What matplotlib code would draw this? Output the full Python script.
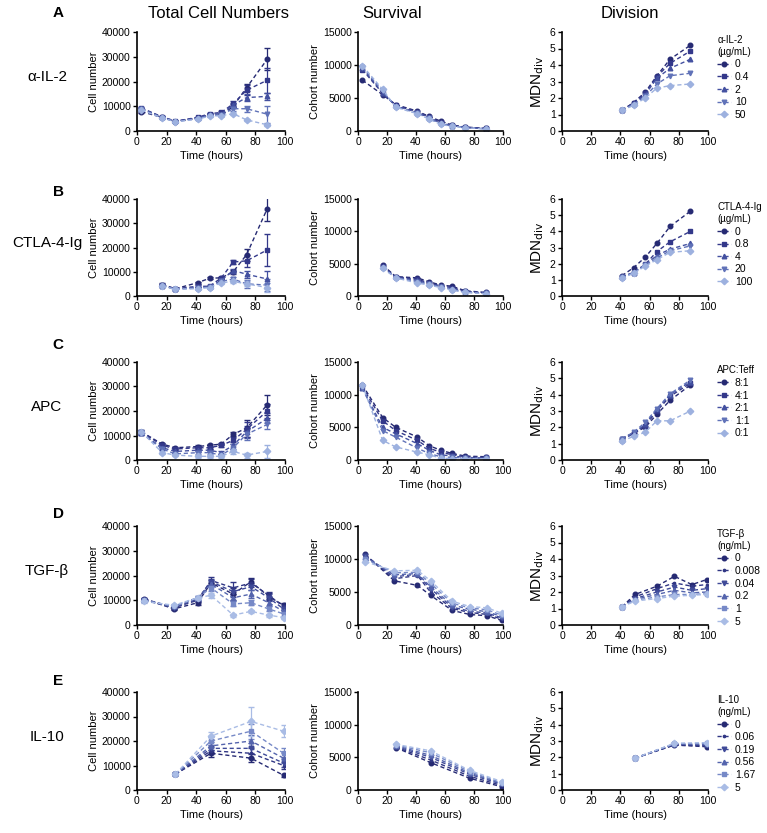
import matplotlib
matplotlib.use("Agg")
import matplotlib.pyplot as plt

plt.rcParams['font.family'] = ['Liberation Sans', 'DejaVu Sans']

# ---- row A: alpha-IL-2 ----
a_groups = ['0', '0.4', '2', '10', '50']
a_t = [3, 17, 26, 41, 49, 57, 65, 74, 88]
a_cells = [[7800, 5500, 3800, 5200, 6500, 6300, 10000, 17500, 29000],
           [9300, 5700, 4000, 5500, 7000, 7500, 11000, 16500, 20500],
           [9000, 5600, 3900, 5300, 6700, 7000, 10500, 13500, 14000],
           [8800, 5400, 3800, 5000, 6200, 6500, 9000, 9000, 6800],
           [8500, 5300, 3700, 4800, 6000, 6200, 7000, 4500, 2500]]
a_cells_err = [[500, 300, 200, 300, 400, 400, 900, 1500, 4500],
               [500, 300, 200, 300, 400, 500, 1200, 2000, 5000],
               [400, 300, 200, 300, 400, 400, 1000, 1500, 1500],
               [400, 300, 200, 300, 300, 400, 800, 1200, 3500],
               [400, 300, 200, 300, 300, 300, 500, 500, 500]]
a_surv = [[7700, 5500, 4000, 3000, 2200, 1500, 900, 600, 400],
          [9300, 5700, 3900, 2900, 2100, 1300, 850, 550, 380],
          [9500, 5800, 3800, 2800, 2000, 1200, 800, 550, 350],
          [9700, 6000, 3700, 2700, 1900, 1100, 750, 500, 330],
          [9900, 6300, 3600, 2600, 1800, 1000, 700, 500, 300]]
a_tdiv = [41, 49, 57, 65, 74, 88]
a_div = [[1.25, 1.72, 2.35, 3.35, 4.35, 5.2],
         [1.25, 1.7, 2.3, 3.3, 4.1, 4.85],
         [1.25, 1.65, 2.2, 3.2, 3.8, 4.35],
         [1.25, 1.6, 2.1, 2.85, 3.35, 3.5],
         [1.25, 1.55, 2.0, 2.6, 2.75, 2.85]]

# ---- row B: CTLA-4-Ig ----
b_groups = ['0', '0.8', '4', '20', '100']
b_t = [17, 26, 41, 49, 57, 65, 74, 88]
b_cells = [[4700, 3000, 5500, 7300, 7500, 10000, 17000, 36000],
           [4500, 3000, 4000, 4000, 7500, 14000, 14500, 19000],
           [4300, 2900, 3500, 3800, 6500, 10500, 9000, 7000],
           [4200, 2800, 3300, 3700, 6000, 7000, 5000, 4500],
           [4000, 2800, 3000, 3500, 5500, 6000, 5000, 3500]]
b_cells_err = [[500, 300, 400, 400, 500, 800, 2500, 5000],
               [500, 300, 400, 400, 500, 800, 2500, 6500],
               [400, 300, 300, 300, 500, 800, 1500, 3500],
               [400, 300, 300, 300, 500, 800, 1500, 2500],
               [400, 300, 300, 300, 500, 800, 1000, 2000]]
b_surv = [[4800, 3000, 2800, 2200, 1700, 1500, 800, 550],
          [4600, 2950, 2600, 2000, 1600, 1300, 700, 500],
          [4500, 2900, 2400, 1900, 1500, 1100, 650, 450],
          [4400, 2850, 2200, 1800, 1400, 1000, 600, 400],
          [4300, 2800, 2000, 1700, 1300, 900, 550, 350]]
b_tdiv = [41, 49, 57, 65, 74, 88]
b_div = [[1.25, 1.75, 2.4, 3.25, 4.3, 5.25],
         [1.2, 1.45, 1.95, 2.75, 3.35, 4.0],
         [1.15, 1.45, 1.95, 2.5, 2.9, 3.25],
         [1.15, 1.45, 1.9, 2.35, 2.8, 3.1],
         [1.1, 1.4, 1.85, 2.25, 2.7, 2.8]]

# ---- row C: APC ----
c_groups = ['8:1', '4:1', '2:1', '1:1', '0:1']
c_t = [3, 17, 26, 41, 49, 57, 65, 74, 88]
c_cells = [[11500, 6500, 5000, 5500, 6000, 6500, 10500, 13000, 22500],
           [11500, 6000, 4500, 5000, 5000, 6000, 8000, 12500, 20000],
           [11000, 5000, 3500, 4000, 4000, 3000, 6000, 11500, 17000],
           [11000, 4500, 2500, 3000, 3000, 2000, 5000, 10500, 14500],
           [11500, 3000, 2000, 1500, 1500, 1500, 3500, 2000, 3500]]
c_cells_err = [[800, 500, 500, 500, 500, 500, 800, 3500, 4000],
               [800, 500, 500, 500, 500, 500, 1500, 3000, 3000],
               [800, 500, 500, 500, 500, 500, 1500, 2500, 2000],
               [800, 500, 500, 500, 500, 500, 1500, 2500, 2000],
               [800, 500, 500, 500, 500, 500, 1000, 1000, 2500]]
c_surv = [[11500, 6500, 5000, 3500, 2200, 1500, 1000, 600, 500],
          [11200, 6000, 4500, 3000, 1800, 1200, 800, 500, 400],
          [11000, 5000, 4000, 2500, 1500, 800, 600, 400, 300],
          [11000, 4500, 3500, 1800, 1000, 500, 400, 300, 300],
          [11500, 3000, 2000, 1200, 800, 300, 200, 200, 200]]
c_tdiv = [41, 49, 57, 65, 74, 88]
c_div = [[1.3, 1.65, 2.0, 2.8, 3.65, 4.6],
         [1.3, 1.65, 2.1, 3.0, 3.9, 4.7],
         [1.25, 1.6, 2.2, 3.1, 4.0, 4.8],
         [1.3, 1.7, 2.3, 3.15, 4.05, 4.9],
         [1.15, 1.45, 1.7, 2.4, 2.4, 3.0]]

# ---- row D: TGF-beta ----
d_groups = ['0', '0.008', '0.04', '0.2', '1', '5']
d_t = [5, 25, 41, 50, 65, 77, 89, 99]
d_cells = [[10500, 6500, 9000, 17000, 12500, 17500, 11500, 8000],
           [10500, 7000, 10000, 18000, 15000, 17000, 12000, 7500],
           [10000, 7000, 10500, 17500, 13500, 15500, 11000, 6500],
           [10000, 7500, 11000, 16500, 11000, 12500, 9000, 5500],
           [10000, 7500, 11000, 15000, 8500, 9000, 6500, 4500],
           [9500, 8000, 11000, 12000, 4000, 5500, 4000, 3000]]
d_cells_err = [[600, 600, 800, 1200, 2500, 1500, 1500, 800],
               [600, 600, 800, 1200, 2500, 1500, 1500, 800],
               [600, 600, 800, 1200, 2000, 1500, 1500, 800],
               [600, 600, 800, 1200, 1500, 1500, 1500, 800],
               [600, 600, 800, 1200, 1000, 1000, 1000, 800],
               [600, 600, 800, 1000, 600, 600, 600, 600]]
d_surv = [[10700, 6700, 6000, 4500, 2200, 1600, 1400, 700],
          [10600, 7000, 7500, 5000, 2500, 1900, 1600, 900],
          [10500, 7300, 7700, 5500, 2700, 2100, 1800, 1100],
          [10300, 7600, 7800, 5800, 3000, 2400, 2000, 1300],
          [10000, 7900, 8000, 6300, 3300, 2600, 2300, 1500],
          [9600, 8200, 8300, 6700, 3600, 2800, 2600, 1800]]
d_tdiv = [41, 50, 65, 77, 89, 99]
d_div = [[1.1, 1.85, 2.35, 2.95, 2.45, 2.75],
         [1.1, 1.7, 2.2, 2.55, 2.35, 2.45],
         [1.1, 1.6, 2.0, 2.3, 2.1, 2.2],
         [1.1, 1.55, 1.85, 2.1, 1.95, 2.0],
         [1.1, 1.5, 1.7, 1.85, 1.85, 1.9],
         [1.1, 1.45, 1.6, 1.75, 1.8, 1.85]]

# ---- row E: IL-10 ----
e_groups = ['0', '0.06', '0.19', '0.56', '1.67', '5']
e_t = [26, 50, 77, 99]
e_cells = [[6500, 15000, 13000, 6000],
           [6500, 16000, 15000, 10000],
           [6500, 17000, 17000, 11000],
           [6500, 18000, 20000, 13000],
           [6500, 20000, 24000, 15000],
           [6500, 22000, 28000, 24000]]
e_cells_err = [[300, 1500, 1500, 500],
               [300, 1500, 2000, 1500],
               [300, 1500, 2000, 1500],
               [300, 1500, 2500, 2000],
               [300, 1500, 3000, 2000],
               [300, 1500, 6000, 2500]]
e_surv = [[6500, 4200, 1800, 500],
          [6600, 4600, 2100, 700],
          [6700, 5000, 2400, 900],
          [6800, 5300, 2600, 1000],
          [6900, 5700, 2800, 1100],
          [7000, 6000, 3000, 1300]]
e_tdiv = [50, 77, 99]
e_div = [[1.95, 2.75, 2.65],
         [1.95, 2.77, 2.7],
         [1.95, 2.8, 2.75],
         [1.95, 2.82, 2.8],
         [1.95, 2.84, 2.85],
         [1.95, 2.86, 2.9]]

letters = ['A', 'B', 'C', 'D', 'E']
row_names = ['\u03b1-IL-2', 'CTLA-4-Ig', 'APC', 'TGF-\u03b2', 'IL-10']
legend_titles = ['\u03b1-IL-2\n(\u00b5g/mL)', 'CTLA-4-Ig\n(\u00b5g/mL)', 'APC:Teff',
                 'TGF-\u03b2\n(ng/mL)', 'IL-10\n(ng/mL)']
col_titles = ['Total Cell Numbers', 'Survival', 'Division']

rows = [
    (a_groups, a_t, a_cells, a_cells_err, a_surv, a_tdiv, a_div),
    (b_groups, b_t, b_cells, b_cells_err, b_surv, b_tdiv, b_div),
    (c_groups, c_t, c_cells, c_cells_err, c_surv, c_tdiv, c_div),
    (d_groups, d_t, d_cells, d_cells_err, d_surv, d_tdiv, d_div),
    (e_groups, e_t, e_cells, e_cells_err, e_surv, e_tdiv, e_div),
]

pal5 = ['#262a73', '#33388a', '#4350a0', '#6072b8', '#9db1df']
pal6 = ['#262a73', '#303684', '#3f4a98', '#5464ad', '#7689c7', '#a9bce5']
mk5 = ['o', 's', '^', 'v', 'D']
mk6 = ['o', '.', 'v', '^', 's', 'D']

W, H = 767, 833
fig = plt.figure(figsize=(W / 100, H / 100), dpi=100)

col_x = [(137, 285), (358, 503), (562, 708)]
row_y = [(32, 131), (199, 296), (362, 460), (526, 625), (692, 790)]
letter_y = [13, 192, 345, 514, 681]


def make_ax(c, r):
    x0, x1 = col_x[c]
    y0, y1 = row_y[r]
    ax = fig.add_axes([x0 / W, 1 - y1 / H, (x1 - x0) / W, (y1 - y0) / H])
    for s in ['top', 'right']:
        ax.spines[s].set_visible(False)
    for s in ['left', 'bottom']:
        ax.spines[s].set_linewidth(1.2)
    ax.set_xlim(0, 100)
    ax.set_xticks([0, 20, 40, 60, 80, 100])
    ax.tick_params(labelsize=7.5, length=3, width=1, pad=1.5)
    ax.set_xlabel('Time (hours)', fontsize=8, labelpad=3)
    return ax


def draw(ax, t, series, errs, cols, mks, labels):
    for i, y in enumerate(series):
        e = errs[i] if errs is not None else None
        ax.errorbar(t, y, yerr=e, color=cols[i], marker=mks[i], ms=3.3,
                    lw=1, ls=(0, (3, 2)), elinewidth=0.9, capsize=2,
                    label=labels[i])


for r, (groups, t, cells, cells_err, surv, tdiv, div) in enumerate(rows):
    cols = pal5 if len(groups) == 5 else pal6
    mks = mk5 if len(groups) == 5 else mk6

    ax1 = make_ax(0, r)
    draw(ax1, t, cells, cells_err, cols, mks, groups)
    ax1.set_ylim(0, 40000)
    ax1.set_yticks([0, 10000, 20000, 30000, 40000])
    ax1.set_ylabel('Cell number', fontsize=8, labelpad=2)

    ax2 = make_ax(1, r)
    draw(ax2, t, surv, None, cols, mks, groups)
    ax2.set_ylim(0, 15000)
    ax2.set_yticks([0, 5000, 10000, 15000])
    ax2.set_ylabel('Cohort number', fontsize=8, labelpad=2)

    ax3 = make_ax(2, r)
    draw(ax3, tdiv, div, None, cols, mks, groups)
    ax3.set_ylim(0, 6)
    ax3.set_yticks(range(7))
    ax3.set_ylabel('MDN$_{\\mathrm{div}}$', fontsize=11, labelpad=3)
    leg = ax3.legend(loc='upper left', bbox_to_anchor=(1.02, 1.03), frameon=False,
                     title=legend_titles[r], fontsize=7.5, title_fontsize=7,
                     handlelength=1.3, handletextpad=0.4, labelspacing=0.25,
                     borderaxespad=0.2)
    leg._legend_box.align = 'left'

    yc = 1 - (row_y[r][0] + row_y[r][1]) / 2 / H
    fig.text(47 / W, yc + 0.005, row_names[r], fontsize=11, ha='center', va='center')
    fig.text(58 / W, 1 - letter_y[r] / H, letters[r], fontsize=11,
             fontweight='bold', ha='center', va='center')

for c, title in enumerate(col_titles):
    xc = [218, 392, 630][c]
    fig.text(xc / W, 1 - 13 / H, title, fontsize=12, ha='center', va='center')

fig.savefig('out.png', dpi=100)
